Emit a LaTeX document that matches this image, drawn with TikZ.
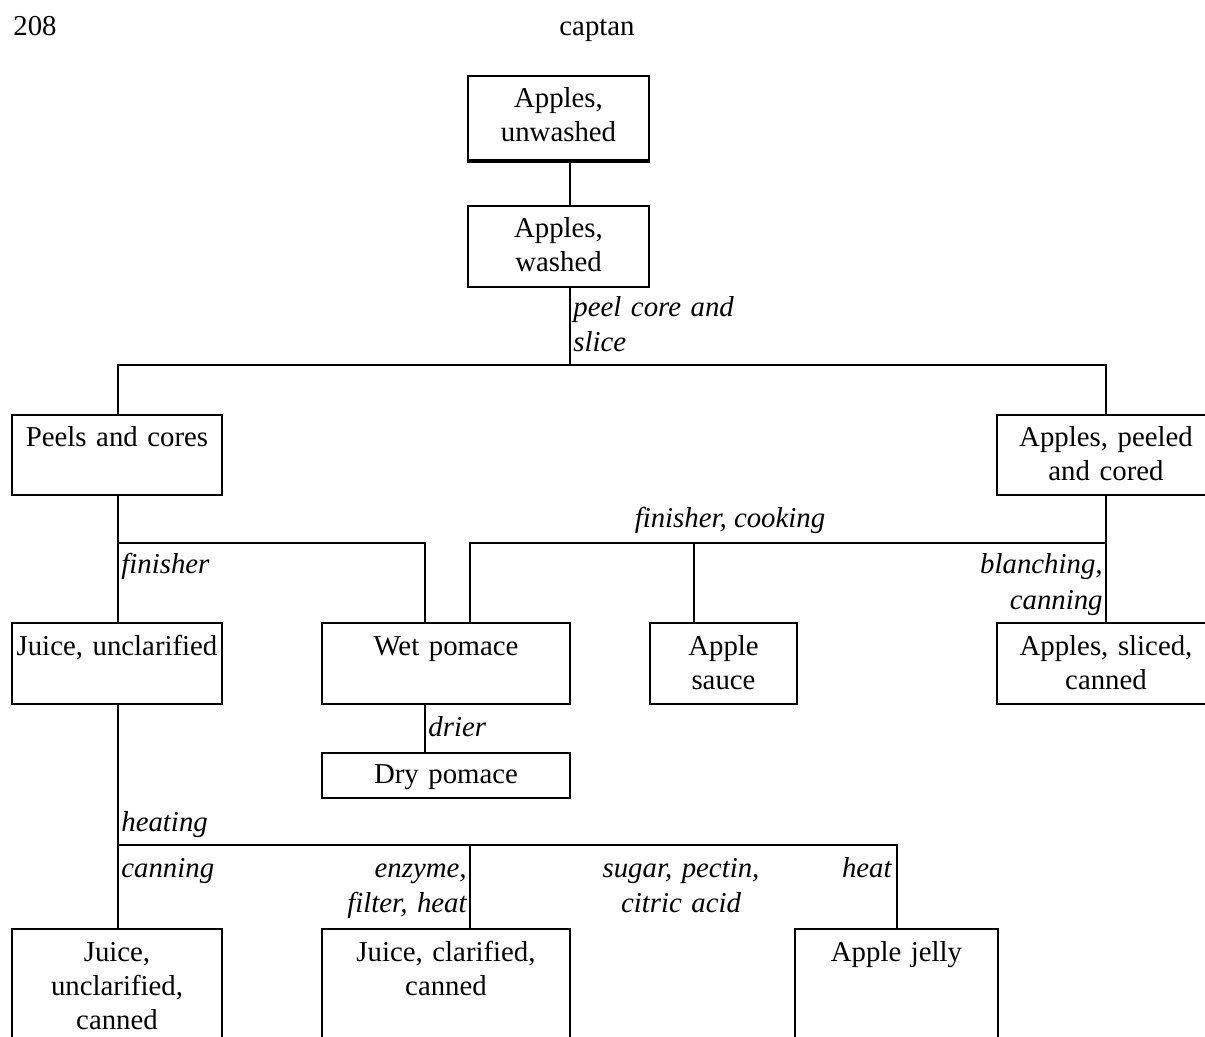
\documentclass[tikz,border=0pt]{standalone}
\usepackage{fontspec}
\setmainfont{Liberation Serif}
\tikzset{
	box/.style={draw,line width=1pt,align=center,anchor=north,inner xsep=0pt,inner ysep=0pt,text height=16pt,text depth=24pt},
	note/.style={font=\fontsize{14.4}{17.5}\selectfont\itshape,inner sep=0pt},
	flow/.style={line width=1pt}
}
\begin{document}
\begin{tikzpicture}[x=0.5pt,y=-0.5pt,font=\fontsize{14.4}{17}\selectfont]
		\clip (0,0) rectangle (1205,1037);
		\useasboundingbox (0,0) rectangle (1205,1037);
		\node [anchor=base west,inner sep=0pt](page) at (13,36) {208};
		\node [anchor=base,inner sep=0pt](title) at (597,36) {captan};
		
		\node [box,text width=90.5pt,text depth=26pt](unwashed) at (558.5,75) {Apples,\\unwashed};
		\node [box,text width=90.5pt,text depth=24.5pt](washed) at (558.5,205) {Apples,\\washed};
		\node [box,text width=105pt](peels) at (117,414) {Peels and cores};
		\node [box,text width=109pt](peeled) at (1106,414) {Apples, peeled\\and cored};
		\node [box,text width=105pt,text depth=24.5pt](juiceU) at (117,622) {Juice, unclarified};
		\node [box,text width=124pt,text depth=24.5pt](wet) at (446,622) {Wet pomace};
		\node [box,text width=73.5pt,text depth=24.5pt](sauce) at (723.5,622) {Apple\\sauce};
		\node [box,text width=109pt,text depth=24.5pt](sliced) at (1106,622) {Apples, sliced,\\canned};
		\node [box,text width=124pt,text height=15pt,text depth=7.5pt](dry) at (446,752) {Dry pomace};
		\node [box,text width=105pt,text depth=60pt](juiceUC) at (117,928) {Juice,\\unclarified,\\canned};
		\node [box,text width=124pt,text depth=60pt](juiceC) at (446,928) {Juice, clarified,\\canned};
		\node [box,text width=101.5pt,text depth=60pt](jelly) at (896.5,928) {Apple jelly};
		\draw [line width=2pt](unwashed.south west)--(unwashed.south east);
		
		\coordinate (s1) at (570,365);
		\coordinate (s2) at (118,543);
		\coordinate (s3) at (425,543);
		\coordinate (s4) at (470,543);
		\coordinate (s5) at (694,543);
		\coordinate (s6) at (118,845);
		\coordinate (s7) at (470,845);
		
		\draw [flow](unwashed.south -| s1)--(washed.north -| s1);
		\draw [flow](washed.south -| s1)--(s1);
		\draw [flow](peels.north -| s2)--(s2 |- s1)--(peeled.north |- s1)--(peeled.north);
		\draw [flow](peels.south -| s2)--(juiceU.north -| s2);
		\draw [flow](s2)--(s3)--(wet.north -| s3);
		\draw [flow](wet.north -| s4)--(s4)--(peeled.south |- s4);
		\draw [flow](peeled.south)--(sliced.north);
		\draw [flow](s5)--(sauce.north -| s5);
		\draw [flow](wet.south -| s3)--(dry.north -| s3);
		\draw [flow](juiceU.south -| s6)--(juiceUC.north -| s6);
		\draw [flow](s6)--(jelly.north |- s6)--(jelly.north);
		\draw [flow](s7)--(juiceC.north -| s7);
		
		\node [note,anchor=base west,text width=90pt,align=left](lpeel) at (573,317) {peel core and\\slice};
		\node [note,anchor=base west](lfin) at (121,574) {finisher};
		\node [note,anchor=base](lcook) at (730,528) {finisher, cooking};
		\node [note,anchor=base east,text width=70pt,align=right](lblanch) at (1103,574) {blanching,\\canning};
		\node [note,anchor=base west](ldrier) at (428,736) {drier};
		\node [note,anchor=base west](lheating) at (121,831) {heating};
		\node [note,anchor=base west](lcan) at (121,877) {canning};
		\node [note,anchor=base east,text width=70pt,align=right](lenz) at (467,877) {enzyme,\\filter, heat};
		\node [note,anchor=base,text width=90pt,align=center](lsugar) at (681,877) {sugar, pectin,\\citric acid};
		\node [note,anchor=base east](lheat) at (892,877) {heat};
		
		\end{tikzpicture}
\end{document}
